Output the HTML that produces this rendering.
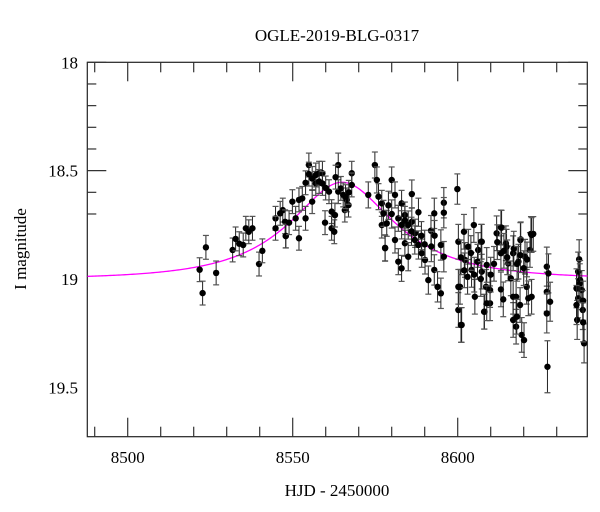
<!DOCTYPE html>
<html><head><meta charset="utf-8"><style>
html,body{margin:0;padding:0;background:#fff;}
svg{display:block;font-family:"Liberation Serif",serif;}
</style></head><body>
<svg id="chart" width="600" height="512" viewBox="0 0 600 512">
<text x="337" y="41" text-anchor="middle" font-size="17">OGLE-2019-BLG-0317</text>
<text x="337" y="496" text-anchor="middle" font-size="17">HJD - 2450000</text>
<text transform="translate(26,249) rotate(-90)" text-anchor="middle" font-size="17">I magnitude</text>
<g id="axes"></g>
<g id="model"></g>
<g id="pts"></g>
</svg>
<script>
const xTicks=[8500,8550,8600];
const yTicks=[18,18.5,19,19.5];
const modelParams=[8565,30,0.5,0.43,19.0]; // t0, tE, u0, fs, baseline mag
const days=[8521.8,8523.7,8522.7,8526.8,8531.8,8532.7,8533.8,8535.0,8535.8,8536.7,8537.8,8539.8,8540.8,8544.8,8544.8,8547.0,8547.9,
8546.2,8547.7,8547.9,8548.9,8549.9,8550.9,8551.9,8551.9,8552.9,8553.9,8553.9,8554.9,8554.9,8555.9,8555.9,8557.0,8558.0,8559.0,8559.0,8559.8,8561.0,8561.8,8561.8,8562.6,8562.8,8563.8,8563.8,8564.6,8565.3,8565.8,8566.4,8566.9,8567.9,8567.9,8572.9,8574.9,8575.5,8576.0,8577.0,8577.0,8578.0,
8580.0,8581.0,8577.5,8578.5,8578.0,8581.0,8582.0,8582.0,8583.0,8583.0,8584.0,8584.0,8585.0,8585.0,8586.1,8586.1,8587.1,8588.1,8588.1,8589.1,8590.1,8591.1,8591.9,8592.9,8592.9,8593.9,8594.9,8594.9,8595.8,8595.8,8595.8,
8599.9,8600.2,8600.2,8600.2,8601.0,8601.9,8602.2,8603.2,8604.2,8604.9,8605.2,8606.2,8607.1,8607.3,8608.1,8608.6,
8607.3,8608.0,8608.8,8609.8,8613.1,8613.1,8613.1,8613.8,8614.6,8615.3,8616.1,8616.8,8616.8,8617.7,8617.7,8618.4,8618.9,8619.1,8619.4,8620.1,8620.4,8620.9,8621.4,8621.9,8622.2,8622.9,8622.4,
8627.0,8627.0,8627.0,8627.5,8628.0,8627.2,8636.8,8636.5,8636.0,8636.5,8636.2,8637.6,8637.9,8638.3,8637.1,
8611.8,8613.3,8614.8,8616.8,8617.9,8619.0,8622.4,8600.7,8601.2,8608.8,8609.8,
8612.0,8614.0,8615.0,8617.0,8618.0,8619.0,8620.0,8621.0,8610.0,8611.0,
8601.0,8602.0,8603.0,8604.0,8606.0,8607.0,8605.0,
8579.0,8580.0,8583.0,8584.0,8586.0,8587.0,8589.0,8590.0,8592.0,8593.0,
8557.0,8558.0,8560.0,8566.0,8567.0,8563.0,
8637.0,8638.0,8636.0,8638.0];
const mags=[18.957,18.854,19.065,18.972,18.866,18.815,18.837,18.843,18.766,18.782,18.766,18.931,18.870,18.720,18.766,18.682,18.801,
18.697,18.736,18.802,18.740,18.643,18.720,18.812,18.635,18.628,18.720,18.556,18.474,18.516,18.536,18.643,18.559,18.512,18.512,18.559,18.740,18.597,18.689,18.766,18.782,18.705,18.474,18.597,18.582,18.612,18.682,18.635,18.659,18.512,18.566,18.612,18.474,18.543,18.620,18.651,18.751,18.856,
18.543,18.612,18.697,18.743,18.858,18.820,18.720,18.920,18.651,18.951,18.705,18.835,18.751,18.897,18.608,18.736,18.789,18.692,18.843,18.881,18.912,19.005,18.777,18.697,18.958,19.036,18.843,19.066,18.648,18.694,18.897,
18.585,18.828,19.036,19.143,19.212,18.782,18.912,18.851,18.958,18.751,19.082,18.866,18.828,18.966,19.151,19.036,
18.828,19.151,18.935,19.112,18.762,18.881,19.048,19.094,18.835,18.928,18.997,18.881,19.189,19.082,19.220,18.920,19.120,18.817,19.258,19.282,18.897,19.036,19.089,18.866,18.792,18.792,19.082,
18.943,19.059,19.159,18.974,19.105,19.405,18.909,18.966,19.043,19.089,19.189,19.051,19.143,19.297,19.005,
18.789,18.763,18.851,19.082,19.174,18.820,18.797,19.036,19.212,19.112,19.051,
18.83,18.87,18.90,18.86,18.93,18.89,18.95,18.91,18.98,18.93,
18.90,18.96,18.99,18.88,18.92,19.00,18.98,
18.66,18.70,18.75,18.73,18.78,18.82,18.80,18.84,18.85,18.80,
18.52,18.55,18.58,18.62,18.60,18.53,
19.02,19.10,19.12,19.20];
const errs=[0.055,0.055,0.055,0.055,0.055,0.055,0.055,0.055,0.055,0.055,0.055,0.055,0.055,0.055,0.055,0.055,0.055,
0.055,0.055,0.055,0.055,0.055,0.055,0.055,0.055,0.055,0.055,0.055,0.055,0.055,0.055,0.055,0.055,0.055,0.055,0.055,0.055,0.055,0.055,0.055,0.055,0.055,0.055,0.055,0.055,0.055,0.055,0.055,0.055,0.055,0.055,0.06,0.06,0.06,0.06,0.06,0.06,0.06,
0.06,0.06,0.06,0.06,0.06,0.06,0.06,0.06,0.06,0.06,0.06,0.06,0.065,0.065,0.065,0.065,0.065,0.065,0.065,0.065,0.065,0.065,0.07,0.07,0.07,0.07,0.07,0.07,0.07,0.07,0.07,
0.07,0.08,0.08,0.08,0.08,0.08,0.08,0.08,0.08,0.08,0.08,0.08,0.08,0.08,0.08,0.08,
0.08,0.08,0.08,0.08,0.08,0.08,0.08,0.08,0.08,0.08,0.08,0.08,0.08,0.08,0.08,0.08,0.08,0.08,0.08,0.08,0.08,0.08,0.08,0.08,0.08,0.08,0.08,
0.09,0.09,0.09,0.09,0.09,0.12,0.09,0.09,0.09,0.09,0.09,0.09,0.09,0.09,0.09,
0.08,0.08,0.08,0.08,0.08,0.08,0.08,0.08,0.08,0.08,0.08,
0.08,0.08,0.08,0.08,0.08,0.08,0.08,0.08,0.08,0.08,
0.08,0.08,0.08,0.08,0.08,0.08,0.08,
0.065,0.065,0.065,0.065,0.065,0.065,0.065,0.065,0.07,0.07,
0.055,0.055,0.055,0.055,0.055,0.055,
0.09,0.09,0.09,0.09];

const NS='http://www.w3.org/2000/svg';
const L=87.3,R=587.3,T=62.3,B=436.7;
const X0=8500,XS=3.3;
const Y0=18,YS=216.7;
function xs(d){return 127.7+(d-X0)*XS;}
function ys(m){return T+(m-Y0)*YS;}
function mk(tag,attrs,parent){const e=document.createElementNS(NS,tag);for(const k in attrs)e.setAttribute(k,attrs[k]);parent.appendChild(e);return e;}

const ax=document.getElementById('axes');
const frame=mk('rect',{x:L,y:T,width:R-L,height:B-T,fill:'none',stroke:'#222','stroke-width':1.2},ax);


for(let d=8490; d<=8630; d+=10){
  const x=xs(d); const major=(d%50===0); const len=major?19:10;
  const t1=mk('line',{x1:x,y1:B,x2:x,y2:B-len,stroke:'#333','stroke-width':1.2},ax);
  
  
  const t2=mk('line',{x1:x,y1:T,x2:x,y2:T+len,stroke:'#333','stroke-width':1.2},ax);
  
  
}
xTicks.forEach(v=>{
  const t=mk('text',{x:xs(v),y:463,'text-anchor':'middle','font-size':17},ax);
  t.textContent=v;
  
  
});
for(let i=0;i<=7;i++){
  const m=18+i*0.1; const y=ys(m); const major=(i%5===0); const len=major?19:9;
  const t1=mk('line',{x1:L,y1:y,x2:L+len,y2:y,stroke:'#333','stroke-width':1.2},ax);
  
  
  const t2=mk('line',{x1:R,y1:y,x2:R-len,y2:y,stroke:'#333','stroke-width':1.2},ax);
  
  
}
yTicks.forEach(v=>{
  const t=mk('text',{x:78,y:ys(v)+6,'text-anchor':'end','font-size':17},ax);
  t.textContent=v;
  
  
});

const [t0,tE,u0,fs,base]=modelParams;
function amp(u){return (u*u+2)/(u*Math.sqrt(u*u+4));}
let dstr='';
for(let d=8487.8; d<=8639.3; d+=0.5){
  const tau=(d-t0)/tE; const u=Math.sqrt(u0*u0+tau*tau);
  const m=base-2.5*Math.log10(fs*amp(u)+1-fs);
  dstr+=(dstr?'L':'M')+xs(d).toFixed(2)+','+ys(m).toFixed(2);
}
const mp=mk('path',{d:dstr,fill:'none',stroke:'#ff00ff','stroke-width':1.3},document.getElementById('model'));



const pg=document.getElementById('pts');
const clip=mk('clipPath',{id:'pc'},pg);
mk('rect',{x:L,y:T,width:R-L,height:B-T},clip);
pg.setAttribute('clip-path','url(#pc)');
for(let i=0;i<days.length;i++){
  const x=xs(days[i]), y=ys(mags[i]), e=errs[i]*YS;
  const g=mk('g',{},pg);
  
  
  mk('line',{x1:x,y1:y-e,x2:x,y2:y+e,stroke:'#222','stroke-width':1},g);
  mk('line',{x1:x-3,y1:y-e,x2:x+3,y2:y-e,stroke:'#555','stroke-width':1.2},g);
  mk('line',{x1:x-3,y1:y+e,x2:x+3,y2:y+e,stroke:'#555','stroke-width':1.2},g);
  mk('circle',{cx:x,cy:y,r:3.2,fill:'#000'},g);
}
</script>
</body></html>
